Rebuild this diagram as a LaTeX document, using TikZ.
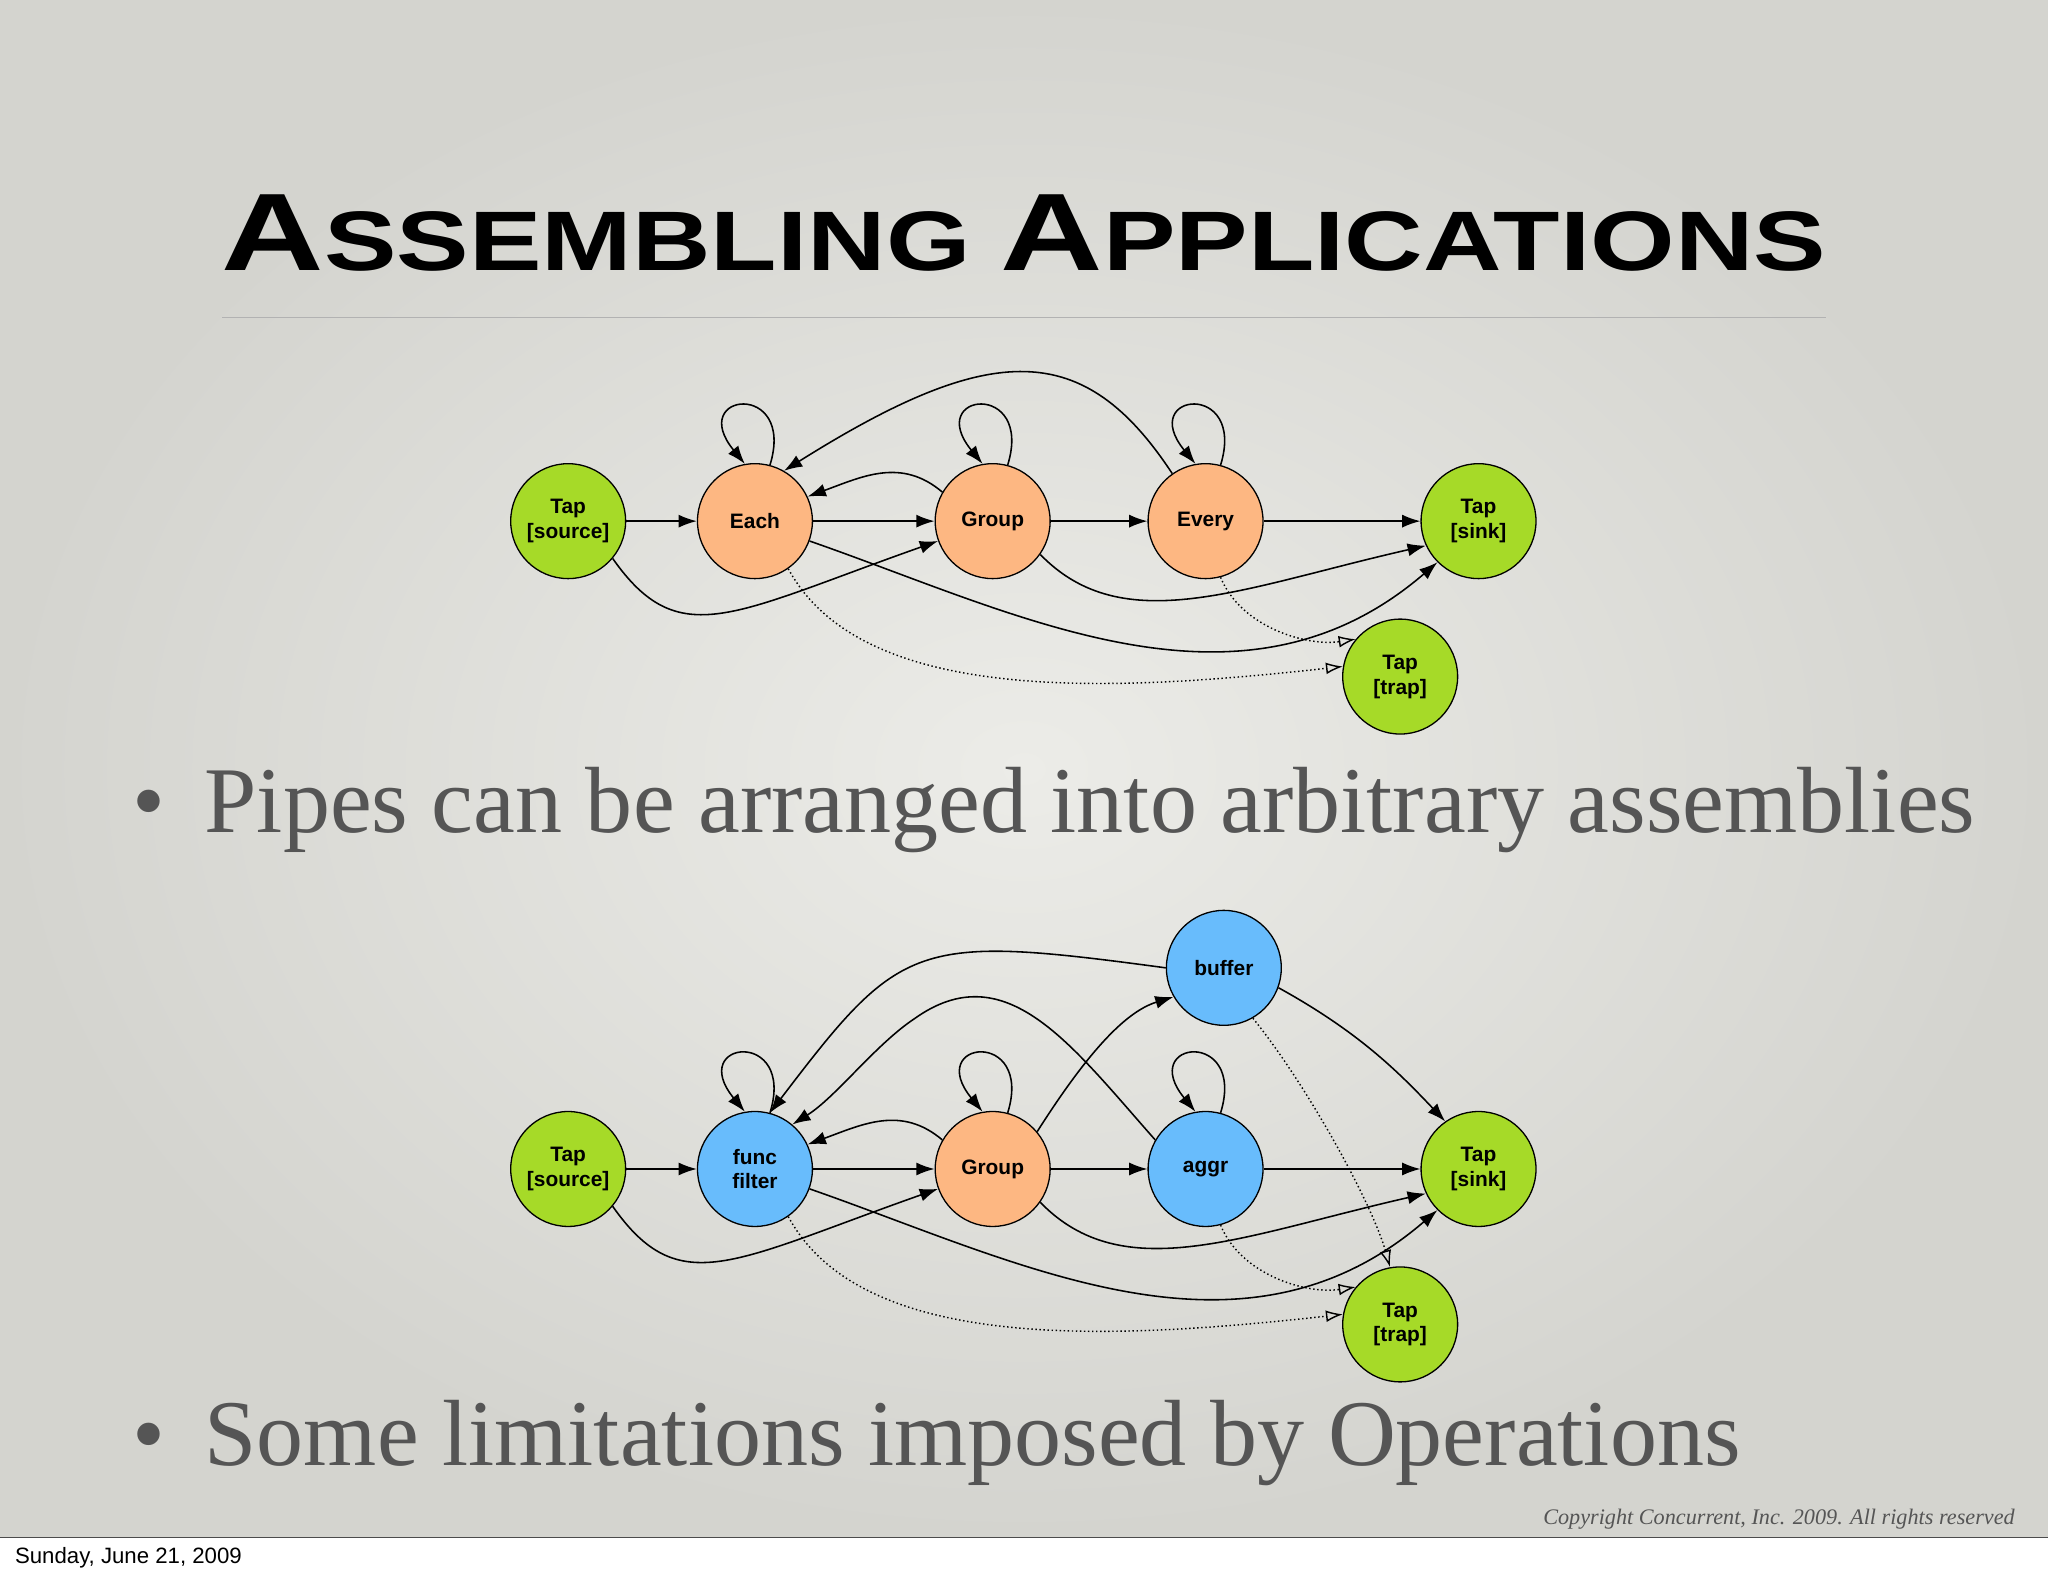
\documentclass[tikz,border=0pt]{standalone}
\usepackage{fontspec}
\setmainfont{Liberation Serif}
\newfontfamily\lsans{Liberation Sans}
\usetikzlibrary{arrows.meta,shadings}
\definecolor{grn}{RGB}{166,218,40}
\definecolor{org}{RGB}{253,183,130}
\definecolor{blu}{RGB}{104,188,252}
\definecolor{bgin}{RGB}{236,236,232}
\definecolor{bgout}{RGB}{212,212,207}
\definecolor{txt}{RGB}{85,85,85}
\tikzset{
 pnode/.style={circle,draw=black,line width=1pt,minimum size=88pt,inner sep=0pt,align=center,font=\lsans\bfseries\fontsize{16}{19}\selectfont},
 gnode/.style={pnode,fill=grn},
 onode/.style={pnode,fill=org},
 bnode/.style={pnode,fill=blu},
 edge/.style={line width=1.2pt,-{Latex[length=14pt,width=10pt]}},
 trapedge/.style={line width=1.1pt,dotted,-{Latex[open,length=13pt,width=9pt]}},
 bullet/.style={anchor=base west,text=txt,font=\fontsize{72}{76}\selectfont},
}
\begin{document}
\begin{tikzpicture}[x=1pt,y=-1pt]
\useasboundingbox (0,0) rectangle (1568,1206);
\shade[inner color=bgin,outer color=bgout] (0,0) rectangle (1568,1177);
\fill[white] (0,1177) rectangle (1568,1206);
\draw[black!70,line width=0.8pt] (0,1177) -- (1568,1177);
\node[anchor=base west,font=\lsans\fontsize{17}{20}\selectfont] (date) at (8,1197) {Sunday, June 21, 2009};
\node[anchor=base east,text=txt,font=\itshape\fontsize{17}{20}\selectfont] (copy) at (1546,1167) {Copyright Concurrent, Inc. 2009. All rights reserved};
\node[anchor=base,inner sep=0pt] (title) at (784,207) {\resizebox{1228pt}{58pt}{\lsans\bfseries\fontsize{60}{60}\selectfont A\fontsize{46}{46}\selectfont SSEMBLING \fontsize{60}{60}\selectfont A\fontsize{46}{46}\selectfont PPLICATIONS}};
\draw[black!30,line width=1.2pt] (170,243) -- (1398,243);
\node[bullet] (b1) at (98,637) {\textbullet\hspace{30pt}Pipes can be arranged into arbitrary assemblies};
\node[bullet] (b2) at (98,1122) {\textbullet\hspace{30pt}Some limitations imposed by Operations};

% top graph
\node[gnode] (src) at (435,399) {Tap\\{}[source]};
\node[onode] (each) at (578,399) {Each};
\node[onode] (grp) at (760,399) {Group};
\node[onode] (evr) at (923,399) {Every};
\node[gnode] (snk) at (1132,399) {Tap\\{}[sink]};
\node[gnode] (trp) at (1072,518) {Tap\\{}[trap]};
\draw[edge] (src) -- (each);
\draw[edge] (each) -- (grp);
\draw[edge] (grp) -- (evr);
\draw[edge] (evr) -- (snk);
\draw[edge] (grp.150) .. controls (690,350) and (660,365) .. (each.25);
\draw[edge] (evr.125) .. controls (830,260) and (760,260) .. (each.60);
\foreach \n in {each,grp,evr}
 \draw[edge] (\n.75) .. controls ([shift={(20,-65)}]\n.75) and ([shift={(-45,-55)}]\n.100) .. (\n.100);
\draw[edge] (src.-40) .. controls (520,500) and (560,470) .. (grp.-160);
\draw[edge] (each.-20) .. controls (780,470) and (950,560) .. (snk.-135);
\draw[edge] (grp.-35) .. controls (860,490) and (950,450) .. (snk.-155);
\draw[trapedge] (each.-55) .. controls (660,540) and (850,530) .. (trp.170);
\draw[trapedge] (evr.-75) .. controls (950,480) and (1000,495) .. (trp.140);

% bottom graph
\node[gnode] (src2) at (435,895) {Tap\\{}[source]};
\node[bnode] (fil) at (578,895) {func\\filter};
\node[onode] (grp2) at (760,895) {Group};
\node[bnode] (agg) at (923,895) {aggr};
\node[gnode] (snk2) at (1132,895) {Tap\\{}[sink]};
\node[gnode] (trp2) at (1072,1014) {Tap\\{}[trap]};
\node[bnode] (buf) at (937,741) {buffer};
\draw[edge] (src2) -- (fil);
\draw[edge] (fil) -- (grp2);
\draw[edge] (grp2) -- (agg);
\draw[edge] (agg) -- (snk2);
\draw[edge] (grp2.150) .. controls (690,846) and (660,861) .. (fil.25);
\draw[edge] (agg.150) .. controls (820,800) and (770,730) .. (700,780) .. controls (670,800) and (640,840) .. (fil.50);
\draw[edge] (buf.180) .. controls (700,715) and (690,720) .. (fil.75);
\foreach \n in {fil,grp2,agg}
 \draw[edge] (\n.75) .. controls ([shift={(20,-65)}]\n.75) and ([shift={(-45,-55)}]\n.100) .. (\n.100);
\draw[edge] (grp2.40) .. controls (830,810) and (860,775) .. (buf.-150);
\draw[edge] (buf.-20) .. controls (1040,790) and (1070,820) .. (snk2.125);
\draw[edge] (src2.-40) .. controls (520,996) and (560,966) .. (grp2.-160);
\draw[edge] (fil.-20) .. controls (780,966) and (950,1056) .. (snk2.-135);
\draw[edge] (grp2.-35) .. controls (860,986) and (950,946) .. (snk2.-155);
\draw[trapedge] (fil.-55) .. controls (660,1036) and (850,1026) .. (trp2.170);
\draw[trapedge] (agg.-75) .. controls (950,976) and (1000,991) .. (trp2.140);
\draw[trapedge] (buf.-60) .. controls (1000,830) and (1050,920) .. (trp2.100);
\end{tikzpicture}
\end{document}
